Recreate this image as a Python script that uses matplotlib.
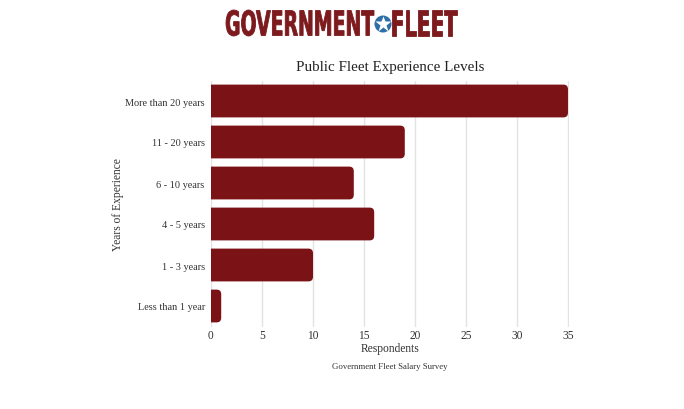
import numpy as np
import matplotlib
matplotlib.use('Agg')
import matplotlib.pyplot as plt
from matplotlib.patches import FancyBboxPatch, PathPatch, Circle
from matplotlib.textpath import TextPath
from matplotlib.font_manager import FontProperties
from matplotlib.transforms import Affine2D

# ── data ──────────────────────────────────────────────
categories = ['More than 20 years', '11 - 20 years', '6 - 10 years',
              '4 - 5 years', '1 - 3 years', 'Less than 1 year']
respondents = [35, 19, 14, 16, 10, 1]
x_ticks = [0, 5, 10, 15, 20, 25, 30, 35]

BAR = '#7a1216'
TXT = '#333333'
plt.rcParams['font.family'] = ['Liberation Serif', 'DejaVu Serif']

fig = plt.figure(figsize=(6.84, 4.10), dpi=100)
fig.patch.set_facecolor('white')
W, H = 684, 410
ax = fig.add_axes([211 / W, 1 - 327.5 / H, 358 / W, 246 / H])

n = len(categories)
ypos = np.arange(n)
ax.set_xlim(0, 35.1)
ax.set_ylim(n - 0.5, -0.5)

# rounded bars (right end only; left end clipped by the axis)
px_x = 358 / 35.1
px_y = 246 / n
for y, v in zip(ypos, respondents):
    p = FancyBboxPatch((-2, y - 0.4), v + 2, 0.8,
                       boxstyle='round,pad=0,rounding_size=0.45',
                       mutation_aspect=px_x / px_y,
                       fc=BAR, ec='none', zorder=3)
    ax.add_patch(p)
    p.set_clip_path(ax.patch)

ax.set_xticks(x_ticks)
ax.set_yticks(ypos)
ax.set_yticklabels(categories)
ax.grid(axis='x', color='#e3e3e3', lw=1)
ax.set_axisbelow(True)
for s in ax.spines.values():
    s.set_visible(False)
ax.tick_params(length=0, colors=TXT)
ax.tick_params(axis='y', pad=4.5, labelsize=7.4)
ax.tick_params(axis='x', pad=2, labelsize=8.3)
ax.set_xlabel('Respondents', fontsize=8.3, color=TXT)
ax.set_ylabel('Years of Experience', fontsize=8.3, color=TXT)
ax.xaxis.set_label_coords(0.5, (327.5 - 343) / 246)
ax.yaxis.set_label_coords((124 - 211) / 358, 0.5)

fig.text(390 / W, 1 - 68 / H, 'Public Fleet Experience Levels', ha='center',
         va='center', fontsize=10.8, color='#222222')
fig.text(390 / W, 1 - 367 / H, 'Government Fleet Salary Survey', ha='center',
         va='center', fontsize=6.3, color=TXT)

# ── logo ──────────────────────────────────────────────
lax = fig.add_axes([0, 0, 1, 1], zorder=-1)
lax.set_xlim(0, W)
lax.set_ylim(H, 0)
lax.axis('off')
fp = FontProperties(family='DejaVu Sans', weight='bold')
LOGO = '#7d1a1d'

def logo_word(word, x0, x1, ytop, ybot):
    tp = TextPath((0, 0), word, size=10, prop=fp)
    bb = tp.get_extents()
    sx = (x1 - x0) / bb.width
    sy = (ybot - ytop) / bb.height
    tr = Affine2D().translate(-bb.x0, -bb.y0).scale(sx, -sy).translate(x0, ybot)
    lax.add_patch(PathPatch(tr.transform_path(tp), fc=LOGO, ec=LOGO, lw=0.6))

logo_word('GOVERNMENT', 226, 374, 11, 37)
logo_word('FLEET', 392, 457, 11, 37)
lax.add_patch(Circle((383, 25), 8.5, fc='#2f6fa8', ec='none'))
lax.plot([383], [25.3], marker='*', ms=12, color='white', mec='none')

fig.savefig('out.png', dpi=100, facecolor='white')
